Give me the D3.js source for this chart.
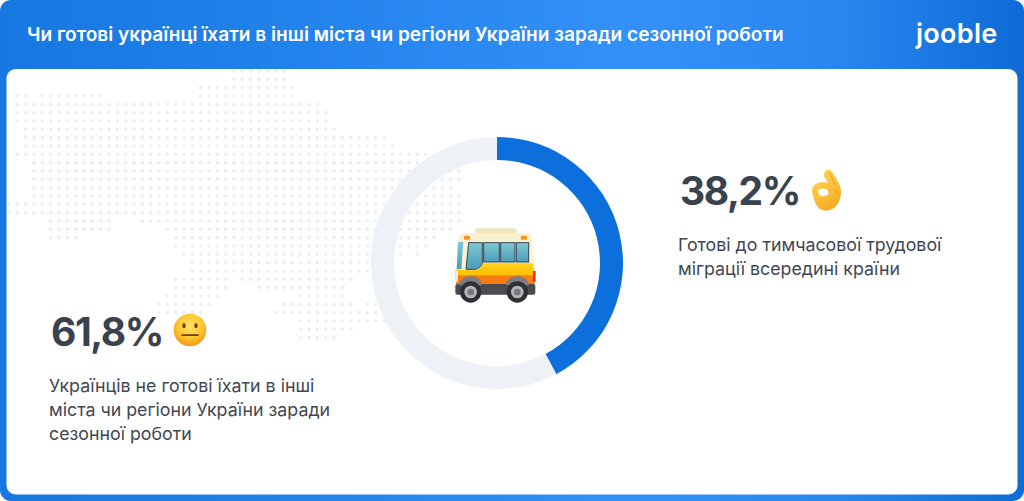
<!DOCTYPE html>
<html>
<head>
<meta charset="utf-8">
<script src="https://cdn.jsdelivr.net/npm/d3@7"></script>
<style>
html, body { margin: 0; padding: 0; background: #fff; overflow: hidden; }
svg { display: block; font-family: Inter, "Noto Sans", sans-serif; }
</style>
</head>
<body>
<svg id="chart" width="1024" height="501"></svg>
<script>
var title = 'Чи готові українці їхати в інші міста чи регіони України заради сезонної роботи';
var brand = 'jooble';

var shareLabels = ['Готові', 'Не готові'];
// the ring in the picture is not drawn to its labels: blue stops at about 42%, not 38,2%
var ringValues = [42.2, 57.8];
var shareColors = ['#0d6fdc', '#eef1f6'];
var shareTexts = ['38,2%', '61,8%'];
var readyLines = ['Готові до тимчасової трудової', 'міграції всередині країни'];
var notReadyLines = ['Українців не готові їхати в інші', 'міста чи регіони України заради', 'сезонної роботи'];

// background map as runs of dots: [row, first column, last column]
var mapRuns = [
    [0, 27, 33], [1, 27, 33], [2, 23, 34], [3, 1, 2], [3, 4, 11], [3, 23, 34],
    [4, 1, 37], [5, 1, 38], [6, 1, 38], [7, 2, 39], [8, 2, 45], [9, 2, 46],
    [10, 1, 50], [11, 3, 51], [12, 3, 54], [13, 3, 54], [14, 3, 53], [15, 3, 54],
    [16, 0, 54], [17, 0, 54], [18, 5, 12], [18, 16, 54], [19, 5, 12], [19, 19, 53],
    [20, 5, 8], [20, 20, 51], [21, 20, 50], [22, 21, 45], [22, 47, 47], [22, 49, 49],
    [23, 22, 43], [24, 22, 43], [25, 20, 26], [25, 28, 41], [26, 20, 26], [26, 30, 40],
    [27, 19, 25], [27, 35, 40], [28, 18, 24], [28, 33, 41], [28, 43, 44],
    [29, 18, 23], [29, 32, 44], [30, 35, 45], [31, 35, 41], [32, 35, 39]
];

var svg = d3.select('#chart');
var defs = svg.append('defs');

function gradient(id, stops, attrs) {
    var g = defs.append(attrs.r ? 'radialGradient' : 'linearGradient').attr('id', id);
    Object.keys(attrs).forEach(function(k) { g.attr(k, attrs[k]); });
    stops.forEach(function(s) {
        g.append('stop').attr('offset', s[0]).attr('stop-color', s[1]);
    });
}

gradient('headerFill', [[0, '#1878e2'], [0.16, '#1c7de6'], [0.62, '#3391f9'], [0.82, '#2a86ef'], [1, '#0e6bd6']], { x1: 0, y1: 0, x2: 1, y2: 0 });
gradient('faceFill', [[0, '#ffe36a'], [0.6, '#ffc62e'], [1, '#f7941d']], { r: 0.62, cx: 0.5, cy: 0.38 });
gradient('handFill', [[0, '#ffd85a'], [1, '#f5a81f']], { x1: 0.2, y1: 0, x2: 0.7, y2: 1 });
gradient('glassFill', [[0, '#7fc8d6'], [1, '#4a9db6']], { x1: 0, y1: 0, x2: 0, y2: 1 });
gradient('busFill', [[0, '#ffd31a'], [1, '#ffb800']], { x1: 0, y1: 0, x2: 0, y2: 1 });

// header and white card
svg.append('rect').attr('width', 1024).attr('height', 501).attr('rx', 11).attr('fill', 'url(#headerFill)');
svg.append('rect').attr('x', 6.5).attr('y', 69).attr('width', 1011).attr('height', 425.5).attr('rx', 9).attr('fill', '#fff');

svg.append('text').attr('x', 27).attr('y', 41)
    .attr('font-size', 19.1).attr('font-weight', 600).attr('fill', '#fff')
    .text(title);

svg.append('text').attr('x', 916).attr('y', 43)
    .attr('font-size', 27).attr('font-weight', 600).attr('letter-spacing', 0.3).attr('fill', '#fff')
    .text(brand);

// dotted map
var col = d3.scaleLinear().domain([0, 54]).range([9, 459]);
var row = d3.scaleLinear().domain([0, 32]).range([71, 337.6]);
var mapDots = [];
mapRuns.forEach(function(run) {
    d3.range(run[1], run[2] + 1).forEach(function(c) {
        mapDots.push({ r: run[0], c: c });
    });
});
svg.append('g').selectAll('circle').data(mapDots).join('circle')
    .attr('cx', function(d) { return col(d.c); })
    .attr('cy', function(d) { return row(d.r); })
    .attr('r', 1.8)
    .attr('fill', '#ebeef5');

// donut, blue share starts at 12 o'clock
var pie = d3.pie().sort(null).value(function(d) { return d; });
var arc = d3.arc().innerRadius(103).outerRadius(126);
svg.append('g').attr('transform', 'translate(497,263)')
    .selectAll('path').data(pie(ringValues)).join('path')
    .attr('d', arc)
    .attr('fill', function(d, i) { return shareColors[i]; })
    .append('title').text(function(d, i) { return shareLabels[i]; });

function drawBlock(x, y, value, lines, lineY) {
    svg.append('text').attr('x', x).attr('y', y)
        .attr('font-size', 39).attr('font-weight', 700).attr('letter-spacing', -1.4).attr('fill', '#3a424e')
        .text(value);
    svg.append('g').selectAll('text').data(lines).join('text')
        .attr('x', x - 2)
        .attr('y', function(d, i) { return lineY + i * 24; })
        .attr('font-size', 17.8).attr('fill', '#3f4753')
        .text(function(d) { return d; });
}
drawBlock(680, 205, shareTexts[0], readyLines, 251);
drawBlock(51, 346, shareTexts[1], notReadyLines, 392);

// emoji have no font here, so they are drawn by hand in zoomed-up units
var face = svg.append('g').attr('transform', 'translate(40,300) scale(0.3333)');
face.append('circle').attr('cx', 450).attr('cy', 90).attr('r', 49).attr('fill', 'url(#faceFill)');
face.append('ellipse').attr('cx', 432).attr('cy', 77).attr('rx', 5).attr('ry', 8).attr('fill', '#6b3f0a');
face.append('ellipse').attr('cx', 468).attr('cy', 77).attr('rx', 5).attr('ry', 8).attr('fill', '#6b3f0a');
face.append('rect').attr('x', 424).attr('y', 103).attr('width', 52).attr('height', 5).attr('rx', 2.5).attr('fill', '#6b3f0a');

var hand = svg.append('g').attr('transform', 'translate(800,160) scale(0.3333)');
hand.append('path')
    .attr('fill-rule', 'evenodd')
    .attr('fill', 'url(#handFill)')
    .attr('d', 'M72 42 Q76 26 90 30 Q98 34 104 48 L118 72 Q128 96 119 120 Q108 150 78 152 Q52 152 44 124 L37 100 Q33 84 44 74 Q60 62 84 68 L78 58 Q70 50 72 42 Z M54 92 Q64 82 80 88 Q88 94 86 102 Q74 112 62 108 Q54 102 54 92 Z');
hand.append('path').attr('fill', 'none').attr('stroke', '#d98c12').attr('stroke-width', 2)
    .attr('d', 'M88 34 Q96 56 106 76 M100 88 Q108 92 112 100');

var bus = svg.append('g').attr('transform', 'translate(430,210) scale(0.3333)');
function busPart(el, attrs) {
    var p = bus.append(el);
    Object.keys(attrs).forEach(function(k) { p.attr(k, attrs[k]); });
}
busPart('rect', { x: 135, y: 55, width: 125, height: 24, rx: 8, fill: '#efe4ba' });
busPart('path', { fill: '#f9f1d2', d: 'M78 185 L86 84 Q88 70 102 70 L292 70 Q304 70 306 84 L312 185 Z' });
busPart('path', { fill: 'url(#busFill)', d: 'M76 180 L138 180 Q152 178 160 160 L310 160 L314 205 L76 205 Z' });
busPart('rect', { x: 78, y: 196, width: 236, height: 26, fill: '#f97c12' });
busPart('rect', { x: 76, y: 182, width: 8, height: 34, rx: 3, fill: '#f0ece0' });
busPart('rect', { x: 309, y: 182, width: 8, height: 34, rx: 3, fill: '#d9332f' });
busPart('rect', { x: 76, y: 222, width: 240, height: 32, rx: 6, fill: '#4a4b50' });
busPart('path', { fill: 'url(#glassFill)', d: 'M84 97 L100 95 L94 178 L80 178 Z' });
busPart('path', { fill: 'url(#glassFill)', stroke: '#39444c', 'stroke-width': 3, d: 'M116 98 L157 98 L157 160 Q150 176 136 178 L108 178 Z' });
busPart('rect', { x: 161, y: 98, width: 47, height: 58, fill: 'url(#glassFill)', stroke: '#39444c', 'stroke-width': 3 });
busPart('rect', { x: 212, y: 98, width: 43, height: 58, fill: 'url(#glassFill)', stroke: '#39444c', 'stroke-width': 3 });
busPart('rect', { x: 259, y: 98, width: 37, height: 58, fill: 'url(#glassFill)', stroke: '#39444c', 'stroke-width': 3 });
busPart('rect', { x: 102, y: 77, width: 18, height: 12, rx: 2, fill: '#f5961d' });
busPart('rect', { x: 273, y: 77, width: 18, height: 12, rx: 2, fill: '#f5961d' });
[122, 262].forEach(function(cx) {
    busPart('path', { fill: '#7d7d80', d: 'M' + (cx - 34) + ' 226 A34 28 0 0 1 ' + (cx + 34) + ' 226 Z' });
    busPart('circle', { cx: cx, cy: 246, r: 32, fill: '#2f2f33' });
    busPart('circle', { cx: cx, cy: 246, r: 19, fill: '#b4b5b8' });
    busPart('circle', { cx: cx, cy: 246, r: 10, fill: '#76777b' });
});
</script>
</body>
</html>
